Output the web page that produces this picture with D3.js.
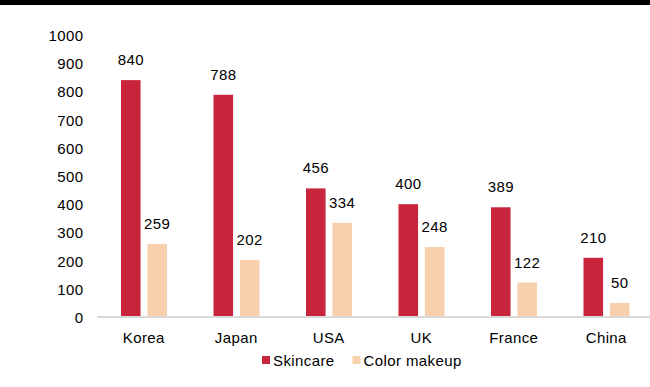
<!DOCTYPE html>
<html>
<head>
<meta charset="utf-8">
<script src="https://cdn.jsdelivr.net/npm/d3@7"></script>
<style>
  html, body { margin: 0; padding: 0; background: #fff; }
  svg { display: block; font-family: "Liberation Sans", Arial, sans-serif; }
  svg text { letter-spacing: 0.4px; }
</style>
</head>
<body>
<svg id="chart" width="650" height="387"></svg>
<script>
const categories = ["Korea", "Japan", "USA", "UK", "France", "China"];
const seriesNames = ["Skincare", "Color makeup"];
const skincare = [840, 788, 456, 400, 389, 210];
const colorMakeup = [259, 202, 334, 248, 122, 50];
const yTicks = [0, 100, 200, 300, 400, 500, 600, 700, 800, 900, 1000];
const colors = ["#C8243C", "#F9D0AE"];

const svg = d3.select("#chart");
const W = 650;
const FS = 15;

// top rule
svg.append("rect").attr("x", 0).attr("y", 0).attr("width", W).attr("height", 5).attr("fill", "#000");

const x = d3.scaleBand().domain(categories).range([97.5, 652.5]).paddingInner(0).paddingOuter(0);
const y = d3.scaleLinear().domain([0, 1000]).range([317, 35]);
const sub = d3.scaleBand().domain(seriesNames).range([23.5, 69.5]).paddingInner(0.26);

// y axis labels
const yAxis = d3.axisLeft(y).tickValues(yTicks).tickSize(0).tickPadding(0).tickFormat(d3.format("d"));
const gy = svg.append("g").attr("transform", "translate(83.5,0)").call(yAxis);
gy.select(".domain").remove();
gy.selectAll("text").attr("font-size", FS).attr("fill", "#000").attr("dy", "0.36em");

const data = categories.map((c, i) => ({ cat: c, vals: [skincare[i], colorMakeup[i]] }));

const groups = svg.append("g").selectAll("g").data(data).join("g")
  .attr("transform", d => `translate(${x(d.cat)},0)`);

groups.selectAll("rect").data(d => d.vals.map((v, k) => ({ v, k })))
  .join("rect")
  .attr("x", d => sub(seriesNames[d.k]))
  .attr("width", sub.bandwidth())
  .attr("y", d => y(d.v))
  .attr("height", d => y(0) - y(d.v))
  .attr("fill", d => colors[d.k]);

groups.selectAll("text.val").data(d => d.vals.map((v, k) => ({ v, k })))
  .join("text")
  .attr("class", "val")
  .attr("x", d => sub(seriesNames[d.k]) + sub.bandwidth() / 2)
  .attr("y", d => y(d.v) - 15)
  .attr("text-anchor", "middle")
  .attr("font-size", FS)
  .attr("fill", "#000")
  .text(d => d.v);

// x axis
const xAxis = d3.axisBottom(x).tickSize(0).tickPadding(0);
const gx = svg.append("g").attr("transform", `translate(0,${y(0)})`).call(xAxis);
gx.select(".domain").attr("stroke", "#D9D9D9").attr("stroke-width", 2).attr("d", `M97,0H650`);
gx.selectAll("text").attr("font-size", FS).attr("fill", "#000").attr("dy", "0").attr("y", 26);

// legend
const legendX = [262, 352.5];
const leg = svg.append("g").selectAll("g").data(seriesNames).join("g")
  .attr("transform", (d, i) => `translate(${legendX[i]},356)`);
leg.append("rect").attr("width", 8).attr("height", 8).attr("fill", (d, i) => colors[i]);
leg.append("text").attr("x", 11).attr("y", 9.5).attr("font-size", FS).attr("fill", "#000").text(d => d);
</script>
</body>
</html>
